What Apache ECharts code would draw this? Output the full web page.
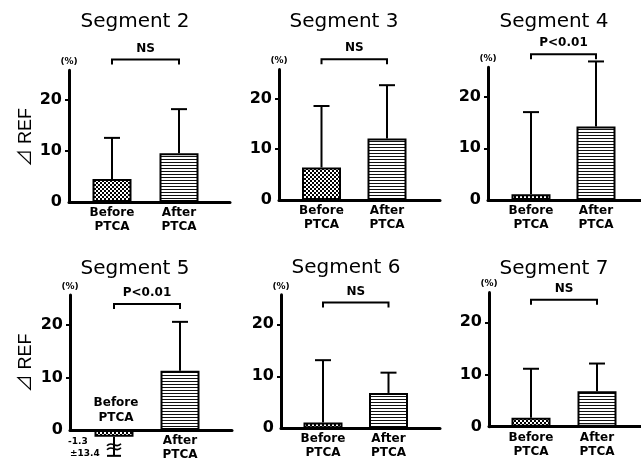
<!DOCTYPE html>
<html><head><meta charset="utf-8">
<script src="https://cdn.jsdelivr.net/npm/echarts@6/dist/echarts.min.js"></script>
<style>html,body{margin:0;padding:0;background:#fff}#c{width:641px;height:464px}</style>
</head><body><div id="c"></div>
<script>
// ---- data ----
const segments = ['Segment 2','Segment 3','Segment 4','Segment 5','Segment 6','Segment 7'];
const categories = ['Before\nPTCA','After\nPTCA'];
const beforeMean = [4.5, 6.4, 1.1, -1.3, 1.1, 1.7];
const beforeSD   = [8.0, 12.1, 15.9, 13.4, 12.0, 9.4];
const afterMean  = [9.5, 12.1, 14.2, 11.3, 6.8, 6.8];
const afterSD    = [8.6, 10.5, 12.6, 9.3, 3.9, 5.3];
const significance = ['NS','NS','P<0.01','P<0.01','NS','NS'];
const bracketLevel = [27.8, 27.7, 28.2, 24.0, 24.2, 24.3];
const yTicks = [0, 10, 20];
const yUnit = '(%)';
const yTitle = '\u22BF REF';
const YMAX = 25.7;

// ---- layout (pixels) ----
const panels = [
 {left:69,  y0:202,   k:5.13, right:230, c1:112,   c2:179,   tx:135, ty:12},
 {left:279, y0:200,   k:5.08, right:440, c1:321.5, c2:387,   tx:344, ty:12},
 {left:488, y0:200,   k:5.17, right:641, c1:531,   c2:596,   tx:554, ty:12},
 {left:70,  y0:430,   k:5.25, right:232, c1:114,   c2:180,   tx:135, ty:259},
 {left:281, y0:428.3, k:5.2,  right:440, c1:323,   c2:388.5, tx:346, ty:258},
 {left:489, y0:426.7, k:5.22, right:641, c1:531,   c2:597,   tx:554, ty:259}
];
const FONT = "'DejaVu Sans', 'Noto Sans', sans-serif";

function makeChecker(){
  const c=document.createElement('canvas'); c.width=4; c.height=4;
  const g=c.getContext('2d'); g.fillStyle='#000'; g.fillRect(0,0,4,4);
  g.fillStyle='#fff'; g.fillRect(0,0,2,2); g.fillRect(2,2,2,2); return c;
}
function makeStripes(){
  const c=document.createElement('canvas'); c.width=4; c.height=3;
  const g=c.getContext('2d'); g.fillStyle='#fff'; g.fillRect(0,0,4,3);
  g.fillStyle='#111'; g.fillRect(0,0,4,1); return c;
}
const checker = {image: makeChecker(), repeat:'repeat'};
const stripes = {image: makeStripes(), repeat:'repeat'};

function errRender(i){
  return function(params, api){
    const x = api.value(0), m = api.value(1), sd = api.value(2);
    const b = api.coord([x, m]);
    const st = {stroke:'#000', lineWidth:2};
    const ch = [];
    if (m >= 0) {
      const t = api.coord([x, m + sd]);
      ch.push({type:'line', shape:{x1:b[0],y1:b[1],x2:t[0],y2:t[1]}, style:st});
      ch.push({type:'line', shape:{x1:t[0]-8,y1:t[1],x2:t[0]+8,y2:t[1]}, style:st});
    } else {
      const cx=b[0], by=b[1];
      ch.push({type:'line', shape:{x1:cx,y1:by,x2:cx,y2:by+19}, style:st});
      ch.push({type:'line', shape:{x1:cx-7,y1:by+19,x2:cx+7,y2:by+19}, style:st});
      [8,12].forEach(d=>{
        const yy=by+d;
        ch.push({type:'bezierCurve', shape:{x1:cx-7,y1:yy+1,x2:cx+7,y2:yy-1,cpx1:cx-2,cpy1:yy-5,cpx2:cx+2,cpy2:yy+5}, style:{stroke:'#000',lineWidth:1.6,fill:null}});
      });
      ch.push({type:'text', x:cx-46, y:by+5, style:{text:m.toFixed(1), font:"bold 9px "+FONT, fill:'#000', align:'left', verticalAlign:'middle'}});
      ch.push({type:'text', x:cx-44, y:by+17, style:{text:'\u00B1'+sd.toFixed(1), font:"bold 9px "+FONT, fill:'#000', align:'left', verticalAlign:'middle'}});
      const z = api.coord([x, 0]);
      ch.push({type:'text', x:cx+2, y:z[1]-5, style:{text:categories[0], font:"bold 12px "+FONT, lineHeight:15, fill:'#000', align:'center', verticalAlign:'bottom'}});
    }
    return {type:'group', children:ch};
  };
}
function bracketRender(params, api){
  const a = api.coord([api.value(0), api.value(2)]);
  const b = api.coord([api.value(1), api.value(2)]);
  const label = significance[params.seriesIndex/3|0];
  return {type:'group', children:[
    {type:'polyline', shape:{points:[[a[0],a[1]+5],[a[0],a[1]],[b[0],b[1]],[b[0],b[1]+5]]}, style:{stroke:'#000', lineWidth:2, fill:null}},
    {type:'text', x:(a[0]+b[0])/2, y:a[1]-5, style:{text:label, font:"bold 12px "+FONT, fill:'#000', align:'center', verticalAlign:'bottom'}}
  ]};
}

const option = {animation:false, backgroundColor:'#fff', title:[], grid:[], xAxis:[], yAxis:[], series:[], graphic:[]};
panels.forEach((p,i)=>{
  const span = p.c2 - p.c1;
  option.grid.push({left:p.left, top:p.y0 - YMAX*p.k, width:p.right - p.left, height:YMAX*p.k});
  option.title.push({text:segments[i], left:p.tx, top:p.ty, textAlign:'center', padding:0,
    textStyle:{fontFamily:FONT, fontSize:20, fontWeight:'normal', color:'#000'}});
  option.xAxis.push({type:'value', gridIndex:i, min:1 - (p.c1 - p.left)/span, max:2 + (p.right - p.c2)/span,
    axisLine:{onZero:false, lineStyle:{color:'#000', width:3}}, axisTick:{show:false}, splitLine:{show:false},
    axisLabel:{customValues:[1,2], margin:4, color:'#000', fontFamily:FONT, fontWeight:'bold', fontSize:12, lineHeight:14,
      formatter:v=>{const n=Math.round(v); return (i===3 && n===1) ? '' : categories[n-1];}}});
  option.yAxis.push({type:'value', gridIndex:i, min:0, max:YMAX, name:yUnit, nameLocation:'end', nameGap:4,
    nameTextStyle:{color:'#000', fontFamily:FONT, fontWeight:'bold', fontSize:9},
    axisLine:{show:true, lineStyle:{color:'#000', width:3}},
    axisTick:{show:true, customValues:yTicks.filter(v=>v>0), length:4, lineStyle:{color:'#000', width:2}},
    axisLabel:{customValues:yTicks, margin:7, color:'#000', fontFamily:FONT, fontWeight:'bold', fontSize:16},
    splitLine:{show:false}});
  option.series.push({type:'bar', xAxisIndex:i, yAxisIndex:i, barWidth:39, clip:false,
    itemStyle:{borderColor:'#000', borderWidth:2},
    data:[{value:[1, beforeMean[i]], itemStyle:{color:checker}}, {value:[2, afterMean[i]], itemStyle:{color:stripes}}]});
  option.series.push({type:'custom', xAxisIndex:i, yAxisIndex:i, clip:false, z:3, renderItem:errRender(i),
    data:[[1, beforeMean[i], beforeSD[i]], [2, afterMean[i], afterSD[i]]]});
  option.series.push({type:'custom', xAxisIndex:i, yAxisIndex:i, clip:false, z:3, renderItem:bracketRender,
    data:[[1, 2, bracketLevel[i]]]});
});
[137.5, 363].forEach(y=>{
  option.graphic.push({type:'text', x:26, y:y, rotation:Math.PI/2,
    style:{text:yTitle, fontSize:18, fontFamily:"'Liberation Sans Narrow', 'Liberation Sans', 'Noto Sans CJK JP', sans-serif", fill:'#000', align:'center', verticalAlign:'middle'}});
});
const chart = echarts.init(document.getElementById('c'), null, {renderer:'canvas'});
chart.setOption(option);
</script>
</body></html>
